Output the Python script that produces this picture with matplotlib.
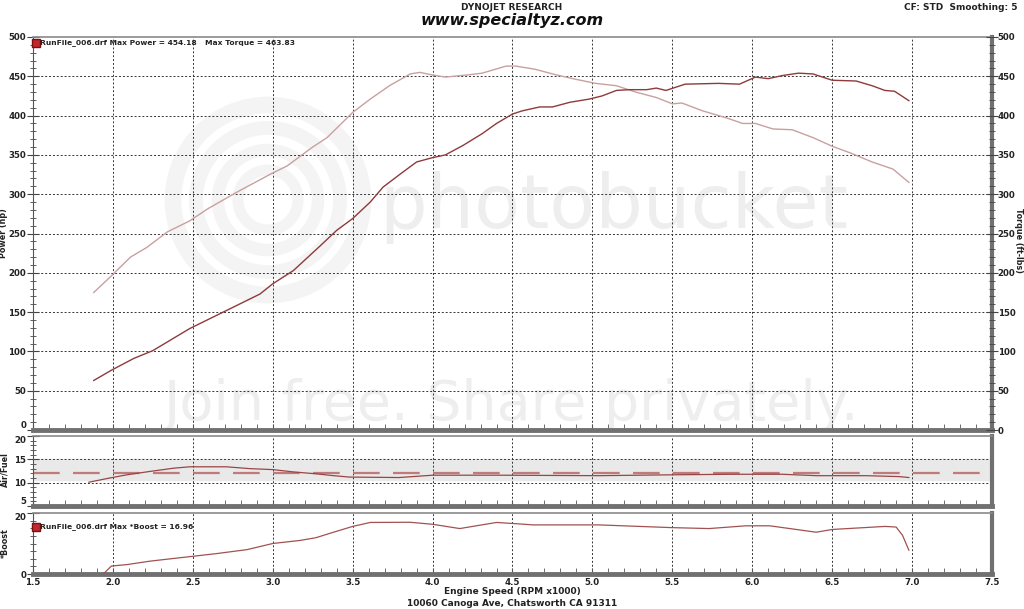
import matplotlib.pyplot as plt
import numpy as np
from matplotlib.patches import Circle

# Power / torque (rpm x1000)
rpm_pw = [1.88, 1.99, 2.13, 2.25, 2.48, 2.69, 2.92, 3.00, 3.13, 3.29, 3.40, 3.50, 3.61, 3.69,
          3.80, 3.90, 3.99, 4.08, 4.19, 4.31, 4.40, 4.50, 4.56, 4.67, 4.75, 4.86, 4.98, 5.06,
          5.15, 5.23, 5.34, 5.40, 5.46, 5.58, 5.79, 5.92, 6.02, 6.10, 6.19, 6.29, 6.38, 6.50,
          6.65, 6.75, 6.83, 6.89, 6.98]
power = [63, 76, 91, 101, 129, 150, 173, 186, 203, 233, 254, 269, 290, 309,
         326, 341, 346, 350, 362, 377, 390, 402, 406, 411, 411, 417, 421, 425,
         432, 433, 433, 435, 432, 440, 441, 440, 449, 447, 451, 454, 453, 445,
         444, 438, 432, 431, 419]

rpm_tq = [1.88, 1.99, 2.11, 2.21, 2.34, 2.48, 2.59, 2.77, 2.99, 3.09, 3.25, 3.34, 3.50, 3.61,
          3.73, 3.86, 3.92, 3.99, 4.08, 4.23, 4.31, 4.46, 4.52, 4.64, 4.77, 4.90, 5.02, 5.15,
          5.27, 5.40, 5.50, 5.56, 5.69, 5.84, 5.94, 6.02, 6.13, 6.25, 6.38, 6.50, 6.62, 6.75,
          6.88, 6.98]
torque = [175, 196, 220, 232, 252, 266, 281, 302, 326, 336, 360, 372, 404, 421,
          438, 453, 455, 452, 449, 452, 454, 463, 463, 459, 452, 446, 441, 438,
          430, 423, 415, 416, 406, 397, 390, 390, 383, 382, 372, 361, 352, 341,
          332, 315]

# Air/Fuel
rpm_afr = [1.85, 1.98, 2.09, 2.23, 2.38, 2.48, 2.71, 2.86, 3.00, 3.13, 3.27, 3.38, 3.48, 3.79,
           4.00, 4.42, 5.04, 5.54, 5.88, 6.19, 6.40, 6.71, 6.92, 6.98]
afr = [10.1, 11.0, 11.7, 12.4, 13.1, 13.4, 13.4, 13.0, 12.8, 12.3, 11.9, 11.5, 11.2, 11.1,
       11.6, 11.6, 11.5, 11.7, 11.8, 11.8, 11.5, 11.5, 11.3, 11.1]
afr_target = 12.0

# Boost
rpm_bst = [1.94, 1.99, 2.09, 2.23, 2.38, 2.50, 2.65, 2.84, 3.00, 3.17, 3.27, 3.38, 3.50, 3.61,
           3.86, 4.00, 4.17, 4.40, 4.52, 4.63, 5.04, 5.50, 5.73, 5.96, 6.11, 6.40, 6.50, 6.83,
           6.90, 6.94, 6.98]
boost = [0.0, 2.6, 3.1, 4.2, 5.1, 5.8, 6.7, 8.0, 10.0, 11.0, 11.9, 13.7, 15.6, 16.9,
         16.96, 16.3, 14.9, 16.9, 16.5, 16.1, 16.1, 15.2, 14.9, 15.8, 15.8, 13.7, 14.6, 15.6,
         15.4, 12.7, 7.8]

W, H = 1024, 609
fig = plt.figure(figsize=(W / 100, H / 100), dpi=100)
fig.patch.set_facecolor('white')

def box(l, t, r, b):
    return [l / W, 1 - b / H, (r - l) / W, (b - t) / H]

ax = fig.add_axes(box(33, 37, 992, 430))
ax_afr = fig.add_axes(box(33, 436, 992, 506))
ax_b = fig.add_axes(box(33, 513, 992, 574))

grid_kw = dict(color='#333333', linestyle=(0, (2, 2)), linewidth=0.7)
tick_font = dict(fontsize=6.2, fontweight='bold', color='#222222')
lab_font = dict(fontsize=5.8, fontweight='bold', color='#222222')
leg_font = dict(fontsize=5.4, fontweight='bold', color='#222222')

for a in (ax, ax_afr, ax_b):
    a.set_xlim(1.5, 7.5)
    a.set_xticks(np.arange(1.5, 7.51, 0.5))
    a.set_xticks(np.arange(1.5, 7.51, 0.1), minor=True)
    a.tick_params(axis='x', which='both', direction='in', length=4, color='#555555')
    for xv in np.arange(2.0, 7.01, 0.5):
        a.axvline(xv, zorder=1, **grid_kw)
    a.spines['top'].set_color('#8a8a8a')
    a.spines['top'].set_linewidth(1.2)
    a.spines['left'].set_color('#555555')
    a.spines['right'].set_color('#707070')
    a.spines['right'].set_linewidth(3)
    a.spines['bottom'].set_color('#707070')
    a.spines['bottom'].set_linewidth(3.5)
    a.tick_params(axis='y', which='both', direction='inout', color='#444444', pad=1)
    a.tick_params(axis='y', which='major', length=8)
    a.tick_params(axis='y', which='minor', length=5)

ax.tick_params(axis='x', labelbottom=False)
ax_afr.tick_params(axis='x', labelbottom=False)
ax_b.set_xticklabels([f'{v:.1f}' for v in np.arange(1.5, 7.51, 0.5)], **tick_font)
ax_b.tick_params(axis='x', pad=3)

# main panel
ax.set_ylim(0, 500)
ax.set_yticks(np.arange(0, 501, 50))
ax.set_yticks(np.arange(0, 501, 10), minor=True)
ax.set_yticklabels([str(v) for v in range(0, 501, 50)], **tick_font)
ax.get_yticklabels()[0].set_va('bottom')
for yv in range(50, 500, 50):
    ax.axhline(yv, zorder=1, **grid_kw)
ax.plot(rpm_tq, torque, color='#c9a0a0', lw=1.0, zorder=3)
ax.plot(rpm_pw, power, color='#8e3a3a', lw=1.0, zorder=4)

axr = ax.twinx()
axr.set_ylim(0, 500)
axr.set_yticks(np.arange(0, 501, 50))
axr.set_yticks(np.arange(0, 501, 10), minor=True)
axr.set_yticklabels([str(v) for v in range(0, 501, 50)], **tick_font)
axr.tick_params(axis='y', which='both', direction='inout', color='#444444', pad=0)
axr.tick_params(axis='y', which='major', length=8)
axr.tick_params(axis='y', which='minor', length=5)
for s in axr.spines.values():
    s.set_visible(False)

fig.text(4 / W, 1 - 233 / H, 'Power (hp)', rotation=90, ha='center', va='center', **lab_font)
fig.text(1018 / W, 1 - 240 / H, 'Torque (ft-lbs)', rotation=270, ha='center', va='center',
         **lab_font)
fig.text(5 / W, 1 - 470 / H, 'Air/Fuel', rotation=90, ha='center', va='center', **lab_font)
fig.text(5 / W, 1 - 543 / H, '*Boost', rotation=90, ha='center', va='center', **lab_font)

ax.plot([1.52], [493], marker='s', ms=6, color='#c0282d', mec='#7a1010',
        clip_on=False, zorder=6)
ax.text(1.545, 493, 'RunFile_006.drf Max Power = 454.18', va='center', ha='left',
        zorder=6, **leg_font)
ax.text(2.575, 493, 'Max Torque = 463.83', va='center', ha='left', zorder=6, **leg_font)

# watermark
wm = dict(transform=fig.transFigure, color='#eeeeee', zorder=0.5, clip_on=False)
ax.text(0.37, 0.66, 'photobucket', fontsize=54, ha='left', va='center', **wm)
ax.text(0.5, 0.335, 'Join free. Share privately.', fontsize=40, ha='center', va='center', **wm)
for r, lw in [(0.95, 12), (0.72, 10), (0.5, 9), (0.3, 8)]:
    ax.add_patch(Circle((2.68, 6.09 - 2.0), r, transform=fig.dpi_scale_trans, fill=False,
                        edgecolor='#f4f4f4', lw=lw, zorder=0.5))

# air / fuel panel
ax_afr.set_ylim(5, 20)
ax_afr.set_yticks([5, 10, 15, 20])
ax_afr.set_yticks(np.arange(5, 20.1, 1), minor=True)
ax_afr.set_yticklabels(['5', '10', '15', '20'], **tick_font)
ax_afr.get_yticklabels()[0].set_va('bottom')
ax_afr.get_yticklabels()[3].set_va('top')
ax_afr.axhspan(10.5, 15, color='#e9e9e9', zorder=0)
ax_afr.axhline(10, zorder=1, **grid_kw)
ax_afr.axhline(15, zorder=1, **grid_kw)
ax_afr.axhline(afr_target, color='#c07a7a', lw=1.6, linestyle=(0, (12, 6)), zorder=2)
ax_afr.plot(rpm_afr, afr, color='#9a4545', lw=0.9, zorder=3)

# boost panel
ax_b.set_ylim(0, 20)
ax_b.set_yticks([0, 20])
ax_b.set_yticks(np.arange(0, 20.1, 2.5), minor=True)
ax_b.set_yticklabels(['0', '20'], **tick_font)
ax_b.get_yticklabels()[1].set_va('top')
ax_b.plot(rpm_bst, boost, color='#a05252', lw=0.9, zorder=3)
ax_b.plot([1.52], [15.5], marker='s', ms=6, color='#c0282d', mec='#7a1010',
          clip_on=False, zorder=6)
ax_b.text(1.545, 15.5, 'RunFile_006.drf Max *Boost = 16.96', va='center', ha='left',
          zorder=6, **leg_font)

# header / footer
fig.text(512 / W, 1 - 7 / H, 'DYNOJET RESEARCH', fontsize=6.5, fontweight='bold',
         ha='center', va='center', color='#222222')
fig.text(512 / W, 1 - 21 / H, 'www.specialtyz.com', fontsize=11.5, fontweight='bold',
         fontstyle='italic', ha='center', va='center', color='#111111')
fig.text(1018 / W, 1 - 7 / H, 'CF: STD  Smoothing: 5', fontsize=6.5, fontweight='bold',
         ha='right', va='center', color='#222222')
fig.text(512 / W, 1 - 591 / H, 'Engine Speed (RPM x1000)', fontsize=6.5, fontweight='bold',
         ha='center', va='center', color='#222222')
fig.text(512 / W, 1 - 604 / H, '10060 Canoga Ave, Chatsworth CA 91311', fontsize=6.5,
         fontweight='bold', ha='center', va='center', color='#222222')

fig.savefig('out.png', dpi=100)
